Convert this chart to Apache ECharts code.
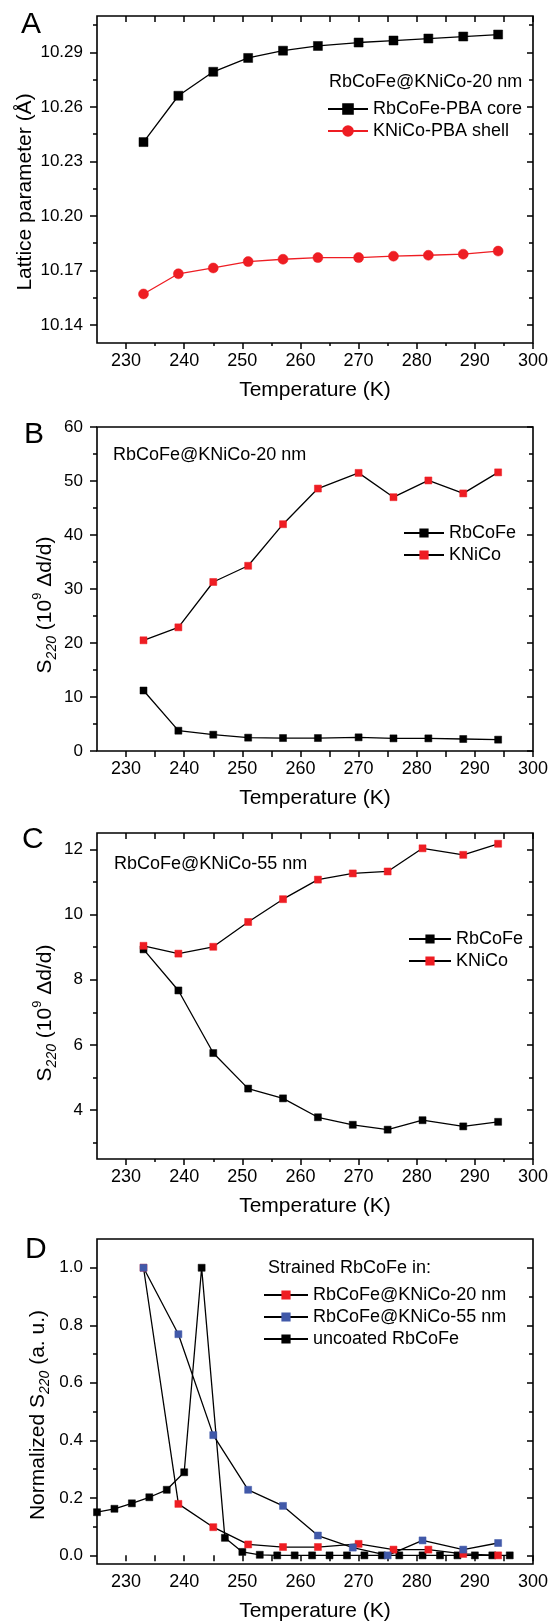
<!DOCTYPE html>
<html>
<head>
<meta charset="utf-8">
<script src="https://cdn.jsdelivr.net/npm/echarts@6/dist/echarts.min.js"></script>
<style>
html,body{margin:0;padding:0;background:#fff;}
#chart{width:552px;height:1624px;}
</style>
</head>
<body>
<div id="chart"></div>
<script>
// ---------- data ----------
const xMajor = [230, 240, 250, 260, 270, 280, 290, 300];
const xMinor = [235, 245, 255, 265, 275, 285, 295];
const xTop = [230, 235, 240, 245, 250, 255, 260, 265, 270, 275, 280, 285, 290, 295, 300];

// Panel A: lattice parameter (Å)
const yMajorA = [10.14, 10.17, 10.20, 10.23, 10.26, 10.29];
const yMinorA = [10.155, 10.185, 10.215, 10.245, 10.275, 10.305];
const tempA = [233, 239, 245, 251, 257, 263, 270, 276, 282, 288, 294];
const coreA = [10.2406, 10.2661, 10.2793, 10.2869, 10.2909, 10.2935, 10.2954, 10.2965, 10.2976, 10.2987, 10.2998];
const shellA = [10.1570, 10.1681, 10.1713, 10.1748, 10.1761, 10.1770, 10.1770, 10.1778, 10.1783, 10.1789, 10.1806];

// Panel B: S220, RbCoFe@KNiCo-20 nm
const yMajorB = [0, 10, 20, 30, 40, 50, 60];
const yMinorB = [5, 15, 25, 35, 45, 55];
const tempB = [233, 239, 245, 251, 257, 263, 270, 276, 282, 288, 294];
const rbB = [11.2, 3.76, 3.02, 2.47, 2.40, 2.40, 2.53, 2.34, 2.34, 2.22, 2.10];
const kniB = [20.5, 22.9, 31.3, 34.3, 42.0, 48.6, 51.5, 47.0, 50.1, 47.7, 51.6];

// Panel C: S220, RbCoFe@KNiCo-55 nm
const yMajorC = [4, 6, 8, 10, 12];
const yMinorC = [3, 5, 7, 9, 11];
const tempC = [233, 239, 245, 251, 257, 263, 269, 275, 281, 288, 294];
const rbC = [8.93, 7.67, 5.75, 4.66, 4.36, 3.78, 3.55, 3.40, 3.69, 3.50, 3.64];
const kniC = [9.04, 8.80, 9.01, 9.77, 10.47, 11.07, 11.26, 11.32, 12.03, 11.83, 12.17];

// Panel D: normalized S220
const yMajorD = [0, 0.2, 0.4, 0.6, 0.8, 1.0];
const yMinorD = [0.1, 0.3, 0.5, 0.7, 0.9];
const temp20 = [233, 239, 245, 251, 257, 263, 270, 276, 282, 288, 294];
const norm20 = [1.0, 0.179, 0.098, 0.038, 0.029, 0.029, 0.040, 0.020, 0.020, 0.005, 0.0];
const temp55 = [233, 239, 245, 251, 257, 263, 269, 275, 281, 288, 294];
const norm55 = [1.0, 0.769, 0.418, 0.228, 0.172, 0.069, 0.027, 0.0, 0.052, 0.020, 0.043];
const tempU = [225, 228, 231, 234, 237, 240, 243, 247, 250, 253, 256, 259, 262, 265, 268, 271, 274, 277, 281, 284, 287, 290, 293, 296];
const normU = [0.150, 0.162, 0.181, 0.202, 0.228, 0.289, 1.0, 0.061, 0.012, 0.002, 0, 0, 0, 0, 0, 0, 0, 0, 0, 0, 0, 0, 0, 0];

// ---------- styling ----------
const FONT = 'Liberation Sans, Arial, Helvetica, sans-serif';
const RED = '#ee1d23';
const BLUE = '#4159a9';
const BLACK = '#000';

const pairs = (xs, ys) => xs.map((x, i) => [x, ys[i]]);

const panels = [
  { top: 16, height: 327, yMin: 10.13, yMax: 10.31, major: yMajorA, minor: yMinorA, dec: 2 },
  { top: 427, height: 324, yMin: 0, yMax: 60, major: yMajorB, minor: yMinorB, dec: 0 },
  { top: 833, height: 326, yMin: 2.5, yMax: 12.5, major: yMajorC, minor: yMinorC, dec: 0 },
  { top: 1239, height: 325, yMin: -0.03, yMax: 1.1, major: yMajorD, minor: yMinorD, dec: 1 }
];

const tickStyle = { color: BLACK, width: 1.5 };
const grids = [], xAxes = [], yAxes = [];
panels.forEach((p, gi) => {
  grids.push({ left: 97, right: 19, top: p.top, height: p.height, show: true,
    borderColor: BLACK, borderWidth: 1.6, backgroundColor: 'transparent',
    containLabel: false, outerBoundsMode: 'none' });
  const xBase = { type: 'value', gridIndex: gi, min: 225, max: 300, splitLine: { show: false },
    axisLine: { show: false } };
  xAxes.push(Object.assign({}, xBase, { position: 'bottom',
    axisTick: { show: true, inside: false, length: 6, lineStyle: tickStyle, customValues: xMajor },
    axisLabel: { show: true, customValues: xMajor, color: BLACK, fontSize: 18, fontFamily: FONT, margin: 9,
      formatter: v => String(Math.round(v)) },
    name: 'Temperature (K)', nameLocation: 'middle', nameGap: 37,
    nameTextStyle: { color: BLACK, fontSize: 21, fontFamily: FONT } }));
  xAxes.push(Object.assign({}, xBase, { position: 'bottom',
    axisTick: { show: true, inside: false, length: 3, lineStyle: tickStyle, customValues: xMinor },
    axisLabel: { show: false } }));
  xAxes.push(Object.assign({}, xBase, { position: 'top',
    axisTick: { show: true, inside: true, length: 6, lineStyle: tickStyle, customValues: xTop },
    axisLabel: { show: false } }));

  const yBase = { type: 'value', gridIndex: gi, min: p.yMin, max: p.yMax, splitLine: { show: false },
    axisLine: { show: false } };
  yAxes.push(Object.assign({}, yBase, { position: 'left',
    axisTick: { show: true, inside: false, length: 7, lineStyle: tickStyle, customValues: p.major },
    axisLabel: { show: true, customValues: p.major, color: BLACK, fontSize: 17, fontFamily: FONT, margin: 14,
      formatter: v => Number(v).toFixed(p.dec) } }));
  yAxes.push(Object.assign({}, yBase, { position: 'left',
    axisTick: { show: true, inside: false, length: 4, lineStyle: tickStyle, customValues: p.minor },
    axisLabel: { show: false } }));
  yAxes.push(Object.assign({}, yBase, { position: 'right',
    axisTick: { show: true, inside: true, length: 6, lineStyle: tickStyle, customValues: p.major },
    axisLabel: { show: false } }));
  yAxes.push(Object.assign({}, yBase, { position: 'right',
    axisTick: { show: true, inside: true, length: 4, lineStyle: tickStyle, customValues: p.minor },
    axisLabel: { show: false } }));
});

function line(name, gi, xs, ys, symbol, size, fill, lineColor) {
  return {
    name, type: 'line', xAxisIndex: gi * 3, yAxisIndex: gi * 4,
    data: pairs(xs, ys), symbol, symbolSize: size, showSymbol: true,
    itemStyle: { color: fill, borderColor: fill, borderWidth: 0.5, opacity: 1 },
    lineStyle: { color: lineColor, width: 1.3 },
    emphasis: { disabled: true }, animation: false, clip: true
  };
}

const series = [
  line('RbCoFe-PBA core', 0, tempA, coreA, 'rect', 9, BLACK, BLACK),
  line('KNiCo-PBA shell', 0, tempA, shellA, 'circle', 10, RED, RED),
  line('RbCoFe', 1, tempB, rbB, 'rect', 7, BLACK, BLACK),
  line('KNiCo', 1, tempB, kniB, 'rect', 7, RED, BLACK),
  line('RbCoFe ', 2, tempC, rbC, 'rect', 7, BLACK, BLACK),
  line('KNiCo ', 2, tempC, kniC, 'rect', 7, RED, BLACK),
  line('uncoated RbCoFe', 3, tempU, normU, 'rect', 7, BLACK, BLACK),
  line('RbCoFe@KNiCo-20 nm', 3, temp20, norm20, 'rect', 7, RED, BLACK),
  line('RbCoFe@KNiCo-55 nm', 3, temp55, norm55, 'rect', 7, BLUE, BLACK)
];

const legText = { color: BLACK, fontSize: 18, fontFamily: FONT };
function legend(left, top, w, h, data) {
  return { orient: 'vertical', left, top, itemWidth: w, itemHeight: h, itemGap: 4,
    textStyle: legText, selectedMode: false, data, padding: 0,
    formatter: n => n.trim() };
}
const legends = [
  legend(327, 100, 40, 12, ['RbCoFe-PBA core', 'KNiCo-PBA shell']),
  legend(403, 524, 40, 9, ['RbCoFe', 'KNiCo']),
  legend(408, 930, 42, 9, ['RbCoFe ', 'KNiCo ']),
  legend(263, 1286, 44, 9, ['RbCoFe@KNiCo-20 nm', 'RbCoFe@KNiCo-55 nm', 'uncoated RbCoFe'])
];

function txt(x, y, text, size, align) {
  return { type: 'text', x, y, silent: true,
    style: { text, fill: BLACK, fontSize: size, fontFamily: FONT,
      align: align || 'left', verticalAlign: 'middle', textAlign: align || 'left', textVerticalAlign: 'middle' } };
}
const rich = {
  n: { fontSize: 21, fontFamily: FONT, lineHeight: 28, color: BLACK },
  sub: { fontSize: 14, fontFamily: FONT, fontStyle: 'italic', lineHeight: 12, verticalAlign: 'bottom', color: BLACK },
  sup: { fontSize: 13, fontFamily: FONT, lineHeight: 12, verticalAlign: 'top', color: BLACK }
};
function vtxt(x, y, text) {
  return { type: 'text', x, y, rotation: Math.PI / 2, silent: true,
    style: { text, rich, fill: BLACK, fontSize: 21, fontFamily: FONT,
      align: 'center', verticalAlign: 'middle', textAlign: 'center', textVerticalAlign: 'middle' } };
}

const graphics = [
  txt(21, 25, 'A', 30), txt(24, 435, 'B', 30), txt(22, 840, 'C', 30), txt(25, 1250, 'D', 30),
  txt(329, 82, 'RbCoFe@KNiCo-20 nm', 18),
  txt(113, 455, 'RbCoFe@KNiCo-20 nm', 18),
  txt(114, 864, 'RbCoFe@KNiCo-55 nm', 18),
  txt(268, 1268, 'Strained RbCoFe in:', 18),
  vtxt(25, 192, '{n|Lattice parameter (Å)}'),
  vtxt(45, 605, '{n|S}{sub|220}{n| (10}{sup|9}{n| Δd/d)}'),
  vtxt(45, 1013, '{n|S}{sub|220}{n| (10}{sup|9}{n| Δd/d)}'),
  vtxt(38, 1415, '{n|Normalized S}{sub|220}{n| (a. u.)}')
];

const chart = echarts.init(document.getElementById('chart'), null, { renderer: 'canvas' });
chart.setOption({
  backgroundColor: '#fff',
  animation: false,
  grid: grids,
  xAxis: xAxes,
  yAxis: yAxes,
  legend: legends,
  series,
  graphic: graphics
});
</script>
</body>
</html>
